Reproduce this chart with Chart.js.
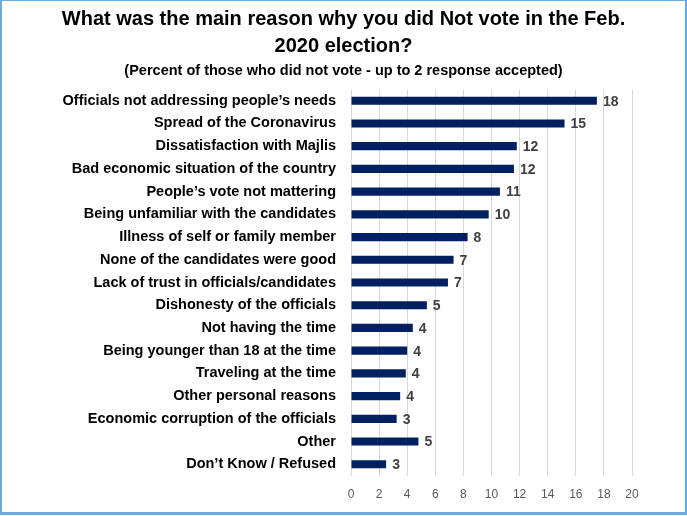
<!DOCTYPE html>
<html>
<head>
<meta charset="utf-8">
<script src="https://cdn.jsdelivr.net/npm/chart.js@4"></script>
<style>
  body { margin: 0; background: #fff; }
  #wrap { position: relative; width: 687px; height: 516px; }
  #frame { position: absolute; left: 0; top: 0; width: 687px; height: 515px; box-sizing: border-box;
    border-left: 2px solid #6fa8dc; border-top: 1px solid #6fa8dc; border-right: 2px solid #6fa8dc; border-bottom: 3px solid #6fa8dc;
    pointer-events: none; }
</style>
</head>
<body>
<div id="wrap">
  <canvas id="razones" width="687" height="516"></canvas>
  <div id="frame"></div>
</div>
<script>
// Categorías, de arriba hacia abajo
const categorias = [
  "Officials not addressing people\u2019s needs",
  "Spread of the Coronavirus",
  "Dissatisfaction with Majlis",
  "Bad economic situation of the country",
  "People\u2019s vote not mattering",
  "Being unfamiliar with the candidates",
  "Illness of self or family member",
  "None of the candidates were good",
  "Lack of trust in officials/candidates",
  "Dishonesty of the officials",
  "Not having the time",
  "Being younger than 18 at the time",
  "Traveling at the time",
  "Other personal reasons",
  "Economic corruption of the officials",
  "Other",
  "Don\u2019t Know / Refused"
]

// Porcentajes (largo de las barras) y etiquetas redondeadas que se muestran
const porcentajes = [17.5, 15.2, 11.8, 11.6, 10.6, 9.8, 8.3, 7.3, 6.9, 5.4, 4.4, 4.0, 3.9, 3.5, 3.25, 4.8, 2.5]
const etiquetas = ["18", "15", "12", "12", "11", "10", "8", "7", "7", "5", "4", "4", "4", "4", "3", "5", "3"]

const titulo = ["What was the main reason why you did Not vote in the Feb.", "2020 election?"]
const subtitulo = "(Percent of those who did not vote - up to 2 response accepted)"

const FUENTE = "'Liberation Sans', Arial, sans-serif"

// Plugin para escribir el valor al final de cada barra
const valoresPlugin = {
  id: 'valores',
  afterDatasetsDraw(chart) {
    const ctx = chart.ctx
    const meta = chart.getDatasetMeta(0)
    ctx.save()
    ctx.font = `bold 14px ${FUENTE}`
    ctx.fillStyle = '#404040'
    ctx.textAlign = 'left'
    ctx.textBaseline = 'middle'
    meta.data.forEach((bar, i) => {
      ctx.fillText(etiquetas[i], bar.x + 6, bar.y + 1)
    })
    ctx.restore()
  }
}

const chart = new Chart(document.getElementById('razones'), {
  type: 'bar',
  data: {
    labels: categorias,
    datasets: [{
      data: porcentajes,
      backgroundColor: '#002060',
      borderWidth: 0,
      barPercentage: 0.72,
      categoryPercentage: 0.5
    }]
  },
  plugins: [valoresPlugin],
  options: {
    indexAxis: 'y',
    responsive: false,
    animation: false,
    layout: { padding: { top: 6, right: 0, bottom: 2, left: 0 } },
    plugins: {
      legend: { display: false },
      tooltip: { enabled: false },
      title: {
        display: true,
        text: titulo,
        color: '#000',
        font: { family: FUENTE, size: 20, weight: 'bold', lineHeight: 1.35 },
        padding: { top: 0, bottom: 2 }
      },
      subtitle: {
        display: true,
        text: subtitulo,
        color: '#000',
        font: { family: FUENTE, size: 14.5, weight: 'bold' },
        padding: { top: 0, bottom: 10 }
      }
    },
    scales: {
      x: {
        min: 0,
        max: 20,
        ticks: { stepSize: 2, color: '#595959', font: { family: FUENTE, size: 12 }, padding: 12 },
        grid: { color: '#d9d9d9', drawTicks: false },
        border: { display: false }
      },
      y: {
        afterFit(scale) { scale.width = 351 },
        ticks: { color: '#000', font: { family: FUENTE, size: 14.5, weight: 'bold' }, padding: 15 },
        grid: { display: false, drawTicks: false },
        border: { display: false }
      },
      // eje vacío a la derecha, solo reserva el margen para que el título quede centrado
      yDer: {
        type: 'category',
        position: 'right',
        afterFit(scale) { scale.width = 55 },
        ticks: { display: false },
        grid: { display: false, drawTicks: false },
        border: { display: false }
      }
    }
  }
})
</script>
</body>
</html>
